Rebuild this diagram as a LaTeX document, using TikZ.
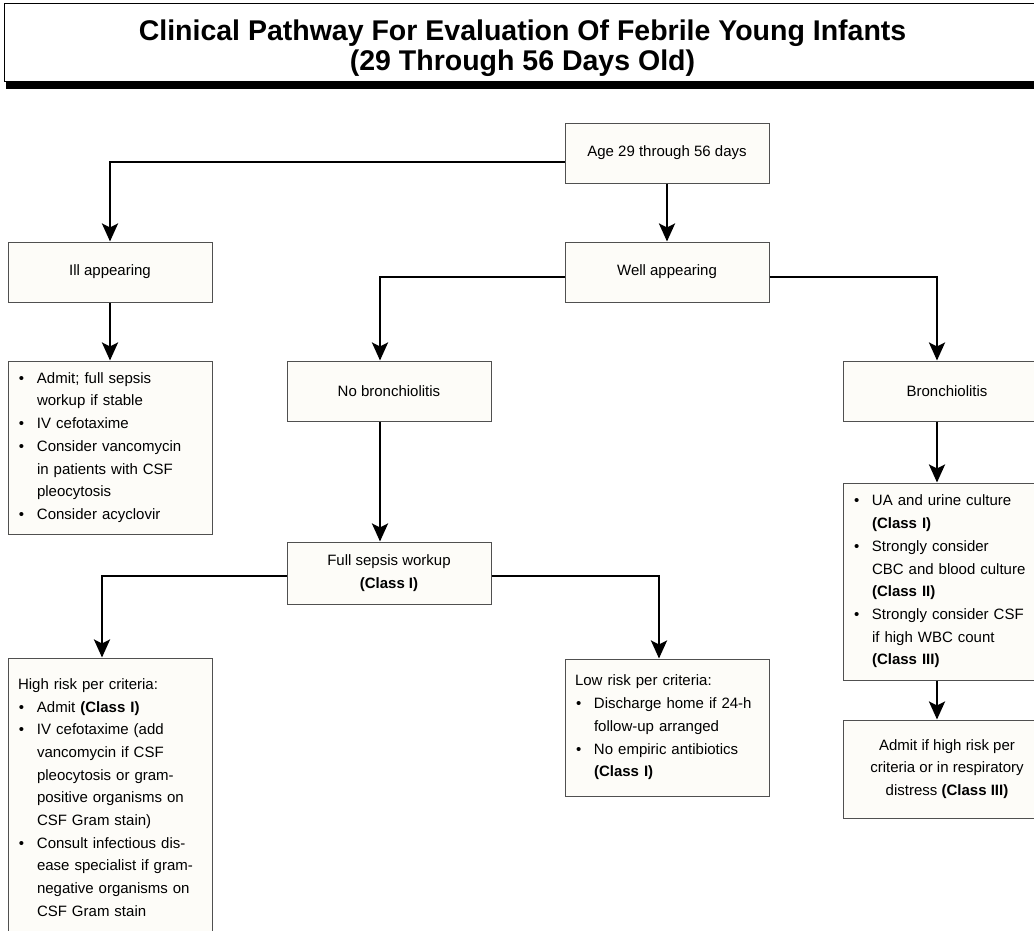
\documentclass[tikz,border=0pt]{standalone}
\usepackage{fontspec}
\setmainfont{Liberation Sans}
\usetikzlibrary{arrows.meta,shadows}
\definecolor{boxfill}{RGB}{253,252,248}
\definecolor{boxline}{RGB}{80,80,80}
\newcommand{\bul}{\makebox[19pt][l]{\hspace{1pt}\textbullet}}
\newcommand{\ind}{\hspace*{19pt}}
\begin{document}
\begin{tikzpicture}[x=1pt,y=-1pt,node distance={119pt},
	main/.style = {draw=boxline, line width=1pt, fill=boxfill, rectangle, align=center, minimum width=204pt, minimum height=60pt, inner sep=0pt, font=\fontsize{15}{22.7}\selectfont},
	list/.style = {main, align=left, text width=184pt, inner xsep=10pt},
	arr/.style = {line width=2.8pt, -{Stealth[length=18pt,width=16pt,inset=4pt]}}]
	\useasboundingbox (0,0) rectangle (1034,930);
	\clip (0,0) rectangle (1034,930);
	
	\node[draw, line width=0.8pt, fill=white, minimum width=1037pt, minimum height=78pt, align=center, inner sep=0pt, font=\fontsize{28.5}{30}\selectfont\bfseries, drop shadow={shadow xshift=2pt, shadow yshift=-8pt, fill=black, opacity=1}] (0) at (522.5,42) {\rule{0pt}{34pt}Clinical Pathway For Evaluation Of Febrile Young Infants\\(29 Through 56 Days Old)};
	
	\node[main] (1) at (667,153) {Age 29 through 56 days};
	\node[main] (2) [below of=1] {Well appearing};
	\node[main] (3) [xshift=-438pt, left of=2] {Ill appearing};
	\node[list, minimum height=173pt] (4) [yshift=-56.5pt, below of=3] {\bul Admit; full sepsis\\\ind workup if stable\\\bul IV cefotaxime\\\bul Consider vancomycin\\\ind in patients with CSF\\\ind pleocytosis\\\bul Consider acyclovir};
	
	\node[main] (5) [xshift=-278pt, below of=2] {No bronchiolitis};
	\node[main, minimum height=62pt] (6) [yshift=-63pt, below of=5] {Full sepsis workup\\\textbf{(Class I)}};
	\node[list, minimum height=279pt] (7) [xshift=-279pt, yshift=-105.5pt, below of=6] {High risk per criteria:\\\bul Admit \textbf{(Class I)}\\\bul IV cefotaxime (add\\\ind vancomycin if CSF\\\ind pleocytosis or gram-\\\ind positive organisms on\\\ind CSF Gram stain)\\\bul Consult infectious dis-\\\ind ease specialist if gram-\\\ind negative organisms on\\\ind CSF Gram stain};
	\node[list, minimum height=137pt] (8) [xshift=278pt, yshift=-35.5pt, below of=6] {Low risk per criteria:\\\bul Discharge home if 24-h\\\ind follow-up arranged\\\bul No empiric antibiotics\\\ind\textbf{(Class I)}};
	
	\node[main, minimum width=208pt] (9) [xshift=280pt, below of=2] {Bronchiolitis};
	\node[list, text width=188pt, minimum height=197pt] (10) [yshift=-71.5pt, below of=9] {\bul UA and urine culture\\\ind\textbf{(Class I)}\\\bul Strongly consider\\\ind CBC and blood culture\\\ind\textbf{(Class II)}\\\bul Strongly consider CSF\\\ind if high WBC count\\\ind\textbf{(Class III)}};
	\node[main, minimum width=208pt, minimum height=98pt] (11) [yshift=-68.5pt, below of=10] {Admit if high risk per\\criteria or in respiratory\\distress \textbf{(Class III)}};
	
	\draw[arr] (1)--(2);
	\draw[arr] ([yshift=-9pt]1.west) -| (3.north);
	\draw[arr] (3)--(4);
	\draw[arr] ([yshift=-5pt]2.west) -| ([xshift=-9pt]5.north);
	\draw[arr] ([yshift=-5pt]2.east) -| ([xshift=-10pt]9.north);
	\draw[arr] ([xshift=-9pt]5.south)--([xshift=-9pt]6.north);
	\draw[arr] ([yshift=-3pt]6.west) -| ([xshift=-8pt]7.north);
	\draw[arr] ([yshift=-3pt]6.east) -| ([xshift=-8pt]8.north);
	\draw[arr] ([xshift=-10pt]9.south)--([xshift=-10pt]10.north);
	\draw[arr] ([xshift=-10pt]10.south)--([xshift=-10pt]11.north);
	
\end{tikzpicture}
\end{document}
